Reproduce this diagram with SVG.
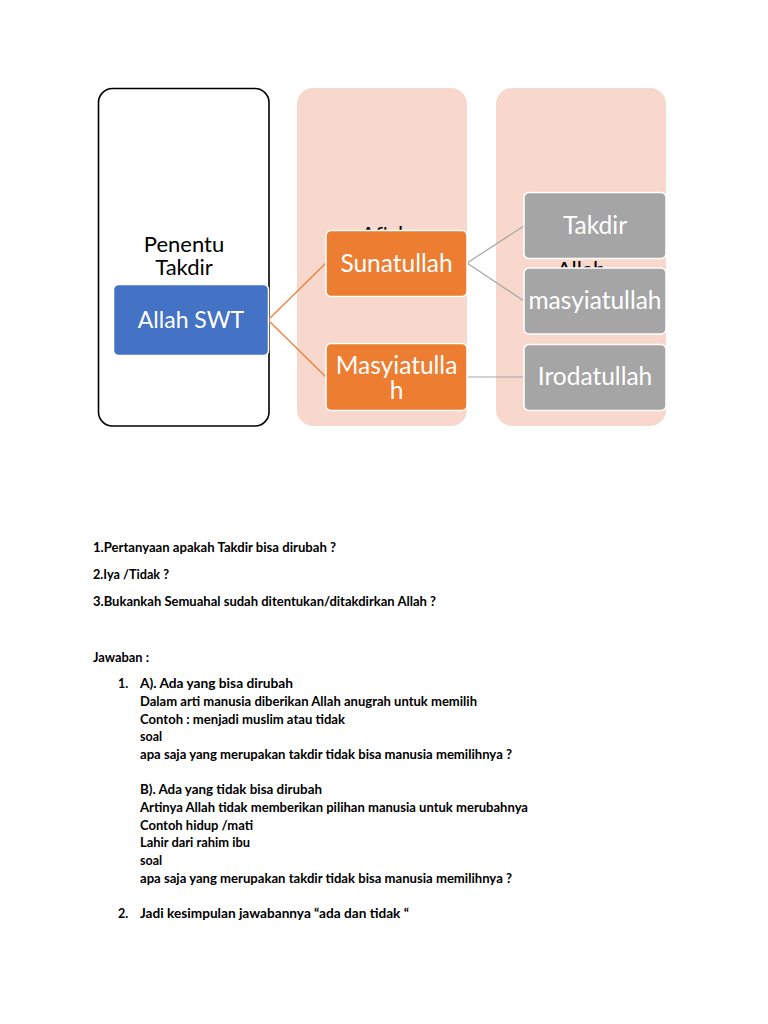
<svg xmlns="http://www.w3.org/2000/svg" width="768" height="1024" viewBox="0 0 768 1024">
<style>
.bg{fill:#ffffff}
.panel{fill:#F8D8CC}
.frame{fill:#ffffff;stroke:#000000;stroke-width:1.6}
.blue{fill:#4472C4;stroke:#ffffff;stroke-width:1.5}
.orange{fill:#ED7D31;stroke:#ffffff;stroke-width:1.5}
.gray{fill:#A5A5A5;stroke:#ffffff;stroke-width:1.5}
.lbl{font-family:Lato,"Open Sans","Liberation Sans",sans-serif;font-size:24.5px;text-anchor:middle}
.sm{font-size:22px}
.md{font-size:23px}
.w{fill:#ffffff}
.k{fill:#000000}
.t{font-family:Lato,"Liberation Sans",sans-serif;font-size:12.5px;font-weight:bold;fill:#000000}
.co{stroke:#ED7D31;stroke-width:1.2;fill:none}
.cg{stroke:#A5A5A5;stroke-width:1.2;fill:none}
</style>
<rect class="bg" x="0" y="0" width="768" height="1024"/>
<g id="col1">
<rect class="frame" x="98.5" y="88.5" width="170.5" height="337.5" rx="14"/>
<text class="lbl sm k" x="184" y="252">Penentu</text>
<text class="lbl sm k" x="184" y="275">Takdir</text>
</g>
<g id="col2">
<rect class="panel" x="297" y="88" width="170" height="338" rx="16"/>
<text class="lbl sm k" x="382" y="242">Af'al</text>
</g>
<g id="col3">
<rect class="panel" x="496" y="88" width="170" height="338" rx="16"/>
<text class="lbl sm k" x="581" y="277">Allah</text>
</g>
<g id="connectors">
<line class="co" x1="268" y1="320" x2="326" y2="263"/>
<line class="co" x1="268" y1="320" x2="326" y2="377"/>
<line class="cg" x1="467" y1="263" x2="524" y2="226"/>
<line class="cg" x1="467" y1="263" x2="524" y2="301"/>
<line class="cg" x1="467" y1="377" x2="524" y2="377"/>
</g>
<g id="allah-swt">
<rect class="blue" x="113.5" y="284.5" width="155" height="71" rx="5"/>
<text class="lbl md w" x="191" y="328">Allah SWT</text>
</g>
<g id="sunatullah">
<rect class="orange" x="326" y="230.5" width="141" height="66" rx="5"/>
<text class="lbl w" x="396.5" y="272">Sunatullah</text>
</g>
<g id="masyiatullah-o">
<rect class="orange" x="326" y="343.5" width="141" height="67" rx="5"/>
<text class="lbl w" x="396.5" y="374">Masyiatulla</text>
<text class="lbl w" x="396.5" y="399">h</text>
</g>
<g id="takdir">
<rect class="gray" x="524" y="192.5" width="142" height="66" rx="5"/>
<text class="lbl w" x="595" y="234">Takdir</text>
</g>
<g id="masyiatullah-g">
<rect class="gray" x="524" y="268" width="142" height="66" rx="5"/>
<text class="lbl w" x="595" y="309">masyiatullah</text>
</g>
<g id="irodatullah">
<rect class="gray" x="524" y="344.5" width="142" height="66" rx="5"/>
<text class="lbl w" x="595" y="385">Irodatullah</text>
</g>
<g id="text">
<text class="t" x="93" y="552" textLength="243" lengthAdjust="spacingAndGlyphs">1.Pertanyaan apakah Takdir bisa dirubah ?</text>
<text class="t" x="93" y="579" textLength="76" lengthAdjust="spacingAndGlyphs">2.Iya /Tidak ?</text>
<text class="t" x="93" y="606" textLength="343" lengthAdjust="spacingAndGlyphs">3.Bukankah Semuahal sudah ditentukan/ditakdirkan Allah ?</text>
<text class="t" x="93" y="662" textLength="56" lengthAdjust="spacingAndGlyphs">Jawaban :</text>
<text class="t" x="118" y="688">1.</text>
<text class="t" x="140" y="688" textLength="153" lengthAdjust="spacingAndGlyphs">A).  Ada yang bisa dirubah</text>
<text class="t" x="140" y="706" textLength="337" lengthAdjust="spacingAndGlyphs">Dalam arti manusia diberikan Allah anugrah untuk memilih</text>
<text class="t" x="140" y="723.5" textLength="205" lengthAdjust="spacingAndGlyphs">Contoh : menjadi muslim atau tidak</text>
<text class="t" x="140" y="741">soal</text>
<text class="t" x="140" y="758.5" textLength="372" lengthAdjust="spacingAndGlyphs">apa saja yang merupakan takdir tidak bisa manusia memilihnya ?</text>
<text class="t" x="140" y="794" textLength="182" lengthAdjust="spacingAndGlyphs">B). Ada yang tidak bisa dirubah</text>
<text class="t" x="140" y="811.5" textLength="388" lengthAdjust="spacingAndGlyphs">Artinya Allah tidak memberikan pilihan manusia untuk merubahnya</text>
<text class="t" x="140" y="829.5" textLength="113" lengthAdjust="spacingAndGlyphs">Contoh hidup /mati</text>
<text class="t" x="140" y="847" textLength="110" lengthAdjust="spacingAndGlyphs">Lahir dari rahim ibu</text>
<text class="t" x="140" y="864.5">soal</text>
<text class="t" x="140" y="882.5" textLength="372" lengthAdjust="spacingAndGlyphs">apa saja yang merupakan takdir tidak bisa manusia memilihnya ?</text>
<text class="t" x="118" y="917.5">2.</text>
<text class="t" x="140" y="917.5" textLength="269" lengthAdjust="spacingAndGlyphs">Jadi kesimpulan jawabannya  “ada dan tidak “</text>
</g>
</svg>
